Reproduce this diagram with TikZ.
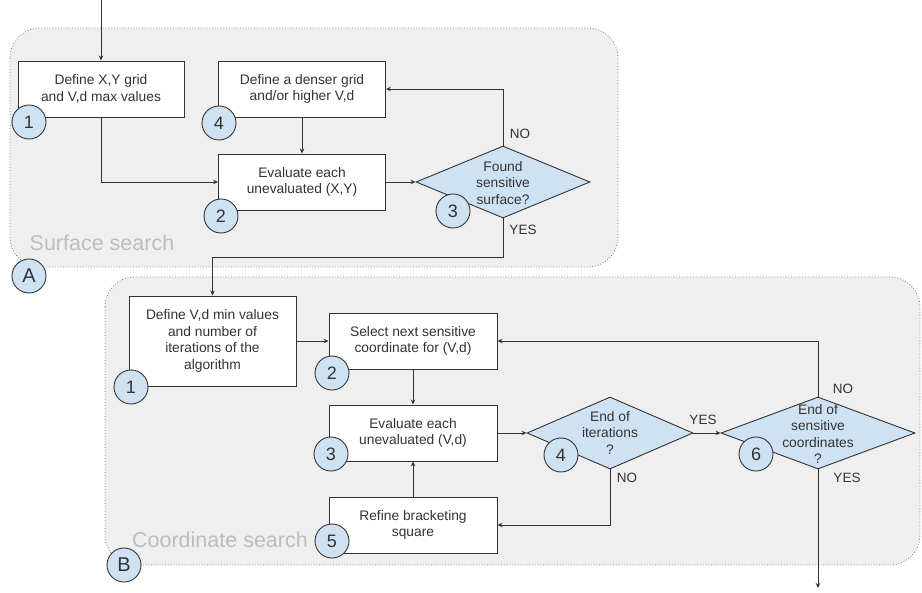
\documentclass[tikz,border=0pt]{standalone}
\usepackage{fontspec}
\setmainfont{Liberation Sans}
\usetikzlibrary{arrows.meta,shapes.geometric}
\definecolor{grpfill}{HTML}{EFEFEF}
\definecolor{grpline}{HTML}{7A7A7A}
\definecolor{bluefill}{HTML}{CFE2F3}
\definecolor{ink}{HTML}{333333}
\definecolor{grptext}{HTML}{BDBDBD}
\tikzset{
  grp/.style={draw=grpline, fill=grpfill, dotted, line width=0.8pt, rounded corners=30pt},
  stepbox/.style={draw=ink, fill=white, line width=0.9pt, rectangle, inner sep=2pt, align=center,
    text=ink, font=\fontsize{13.8}{16.6}\selectfont},
  decbox/.style={draw=ink, fill=bluefill, line width=0.9pt, diamond, inner sep=0pt},
  dectext/.style={align=center, text=ink, font=\fontsize{13.8}{16.6}\selectfont, inner sep=0pt},
  numc/.style={draw=ink, fill=bluefill, line width=0.9pt, circle, minimum size=34pt, inner sep=0pt,
    text=ink, font=\fontsize{18}{18}\selectfont},
  letc/.style={numc, font=\fontsize{20}{20}\selectfont},
  conn/.style={draw=ink, line width=0.9pt, -{Stealth[length=5pt,width=4.5pt]}},
  lbl/.style={text=ink, font=\fontsize{13.5}{13.5}\selectfont, inner sep=0pt},
  grplbl/.style={text=grptext, font=\fontsize{21.5}{21.5}\selectfont, inner sep=0pt},
}
\begin{document}
\begin{tikzpicture}[x=1pt,y=-1pt]
\useasboundingbox (0,0) rectangle (922,593);
% groups
\path[grp] (10,28) rectangle (618,267);
\path[grp] (105,277) rectangle (920,565);
\node[grplbl] (tA) at (102,243) {Surface search};
\node[grplbl] (tB) at (220,540) {Coordinate search};

% boxes group A
\node[stepbox, minimum width=166pt, minimum height=56pt] (A1) at (101,89) {Define X,Y grid\\and V,d max values};
\node[stepbox, minimum width=167pt, minimum height=56pt] (A4) at (302,89) {Define a denser grid\\and/or higher V,d};
\node[stepbox, minimum width=167pt, minimum height=56pt] (A2) at (302,182) {Evaluate each\\unevaluated (X,Y)};
\node[decbox, minimum width=174pt, minimum height=72pt] (A3) at (503,182) {};
\node[dectext] (A3t) at (503,183) {Found\\sensitive\\surface?};

% boxes group B
\node[stepbox, minimum width=167pt, minimum height=90pt] (B1) at (212.5,341) {Define V,d min values\\and number of\\iterations of the\\algorithm};
\node[stepbox, minimum width=168pt, minimum height=56pt] (B2) at (413,341) {Select next sensitive\\coordinate for (V,d)};
\node[stepbox, minimum width=168pt, minimum height=56pt] (B3) at (413,433) {Evaluate each\\unevaluated (V,d)};
\node[stepbox, minimum width=168pt, minimum height=56pt] (B5) at (413,525) {Refine bracketing\\square};
\node[decbox, minimum width=166pt, minimum height=72pt] (B4) at (610,433) {};
\node[dectext] (B4t) at (610,433) {End of\\iterations\\?};
\node[decbox, minimum width=194pt, minimum height=72pt] (B6) at (818,433) {};

% connectors
\coordinate (start) at (101,0);
\coordinate (finish) at (818,588);
\draw[conn] (start) -- (A1.north);
\draw[conn] (A1.south) |- (A2.west);
\draw[conn] (A4.south) -- (A2.north);
\draw[conn] (A2.east) -- (A3.west);
\draw[conn] (A3.north) |- (A4.east);
\draw[conn] (A3.south) -- ++(0,39) -| (B1.north);
\draw[conn] (B1.east) -- (B2.west);
\draw[conn] (B2.south) -- (B3.north);
\draw[conn] (B5.north) -- (B3.south);
\draw[conn] (B3.east) -- (B4.west);
\draw[conn] (B4.east) -- (B6.west);
\draw[conn] (B4.south) |- (B5.east);
\draw[conn] (B6.north) |- (B2.east);
\draw[conn] (B6.south) -- (finish);

\node[dectext] (B6t) at (818,434) {End of\\sensitive\\coordinates\\?};

% labels
\node[lbl] (noA) at (520,134) {NO};
\node[lbl] (yesA) at (523,230) {YES};
\node[lbl] (yesB4) at (703,420) {YES};
\node[lbl] (noB4) at (627,478) {NO};
\node[lbl] (noB6) at (843,389) {NO};
\node[lbl] (yesB6) at (847,478) {YES};

% number circles
\node[numc] (cA1) at (29,122) {1};
\node[numc] (cA4) at (219,123) {4};
\node[numc] (cA2) at (221,216) {2};
\node[numc] (cA3) at (453,211) {3};
\node[letc] (cA) at (29,276) {A};
\node[numc] (cB1) at (131,387) {1};
\node[numc] (cB2) at (332,373) {2};
\node[numc] (cB3) at (331,454) {3};
\node[numc] (cB5) at (332,541) {5};
\node[numc] (cB4) at (561,455) {4};
\node[numc] (cB6) at (756,454) {6};
\node[letc] (cB) at (124,565) {B};
\end{tikzpicture}
\end{document}
